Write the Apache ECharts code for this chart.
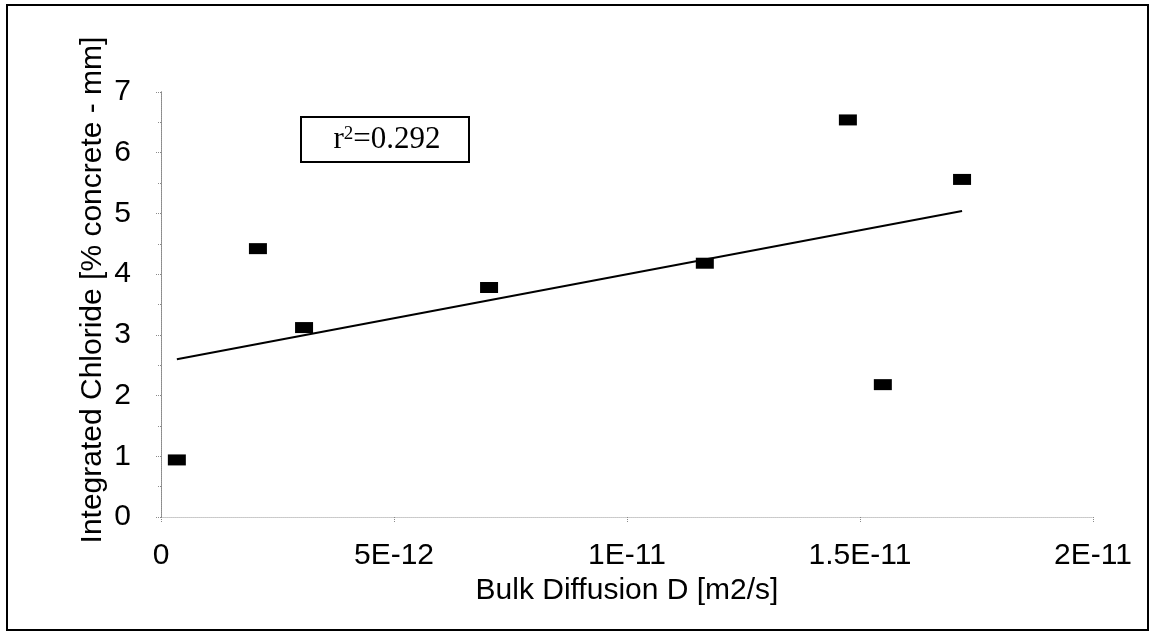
<!DOCTYPE html>
<html><head><meta charset="utf-8">
<script src="https://cdn.jsdelivr.net/npm/echarts@6/dist/echarts.min.js"></script>
<style>html,body{margin:0;padding:0;background:#fff}#c{width:1152px;height:636px}</style>
</head><body><div id="c"></div>
<script>
// Data
const diffusion = [0.34e-12, 2.08e-12, 3.07e-12, 7.04e-12, 11.67e-12, 14.74e-12, 15.49e-12, 17.19e-12];
const chloride  = [0.94, 4.42, 3.12, 3.78, 4.18, 6.54, 2.18, 5.56];
const trendX = [0.34e-12, 17.19e-12];
const trendY = [2.60, 5.04];
const xTickLabels = ['0', '5E-12', '1E-11', '1.5E-11', '2E-11'];
const yTickLabels = ['0', '1', '2', '3', '4', '5', '6', '7'];
const xTitle = 'Bulk Diffusion D [m2/s]';
const yTitle = 'Integrated Chloride [% concrete - mm]';
const rSquared = '0.292';

const chart = echarts.init(document.getElementById('c'), null, {renderer: 'canvas'});
const XSTEP = 5e-12;
const font = '"Liberation Sans", Arial, sans-serif';
const dotted = {color: '#8a8a8a', type: 'dotted', width: 1};
const faint = {color: '#c8c8c8', type: 'dotted', width: 1};

chart.setOption({
  animation: false,
  backgroundColor: '#fff',
  grid: {left: 161, right: 59, top: 92, bottom: 119, show: false},
  xAxis: [{
    type: 'value', min: 0, max: 2e-11, interval: XSTEP,
    axisLine: {show: true, lineStyle: faint},
    axisTick: {show: true, length: 6, inside: false, lineStyle: dotted},
    splitLine: {show: false},
    axisLabel: {
      margin: 24, color: '#000', fontFamily: font, fontSize: 30,
      formatter: v => xTickLabels[Math.round(v / XSTEP)]
    },
    name: xTitle, nameLocation: 'middle', nameGap: 49,
    nameTextStyle: {color: '#000', fontFamily: font, fontSize: 30}
  }, {
    type: 'value', position: 'top', min: 0, max: 2e-11, interval: XSTEP,
    axisLine: {show: true, lineStyle: faint},
    axisTick: {show: false}, axisLabel: {show: false}, splitLine: {show: false}
  }],
  yAxis: [{
    type: 'value', min: 0, max: 7, interval: 1,
    axisLine: {show: true, lineStyle: dotted},
    axisTick: {show: true, length: 6, lineStyle: dotted},
    minorTick: {show: true, splitNumber: 2, length: 4, lineStyle: dotted},
    splitLine: {show: false},
    axisLabel: {
      margin: 30, color: '#000', fontFamily: font, fontSize: 30,
      formatter: v => yTickLabels[Math.round(v)]
    }
  }, {
    type: 'value', position: 'right', min: 0, max: 7, interval: 1,
    axisLine: {show: true, lineStyle: dotted},
    axisTick: {show: false}, axisLabel: {show: false}, splitLine: {show: false}
  }],
  graphic: [
    {type: 'rect', shape: {x: 7, y: 5, width: 1141, height: 625}, style: {fill: 'none', stroke: '#000', lineWidth: 2}, silent: true, z: 100},
    {type: 'text', x: 93, y: 290, rotation: Math.PI / 2,
      style: {text: yTitle, fill: '#000', font: '30px "Liberation Sans", Arial, sans-serif', textAlign: 'center', textVerticalAlign: 'middle'}},
    {type: 'rect', shape: {x: 301, y: 117, width: 168, height: 45}, style: {fill: '#fff', stroke: '#000', lineWidth: 2}, z: 50},
    {type: 'text', x: 387, y: 140, z: 51,
      style: {
        text: '{r|r}{s|2}{r|=' + rSquared + '}',
        textAlign: 'center', textVerticalAlign: 'middle',
        rich: {
          r: {fontFamily: '"Liberation Serif", "Times New Roman", serif', fontSize: 31, fill: '#000', color: '#000'},
          s: {fontFamily: '"Liberation Serif", "Times New Roman", serif', fontSize: 19, fill: '#000', color: '#000', verticalAlign: 'top', padding: [0, 0, 11, 0]}
        }
      }}
  ],
  series: [
    {
      type: 'scatter',
      data: diffusion.map((x, i) => [x, chloride[i]]),
      symbol: 'rect', symbolSize: [18, 11],
      itemStyle: {color: '#000', opacity: 1}, z: 5
    },
    {
      type: 'line',
      data: trendX.map((x, i) => [x, trendY[i]]),
      symbol: 'none', lineStyle: {color: '#000', width: 2}, z: 4
    }
  ]
});
</script>
</body></html>
